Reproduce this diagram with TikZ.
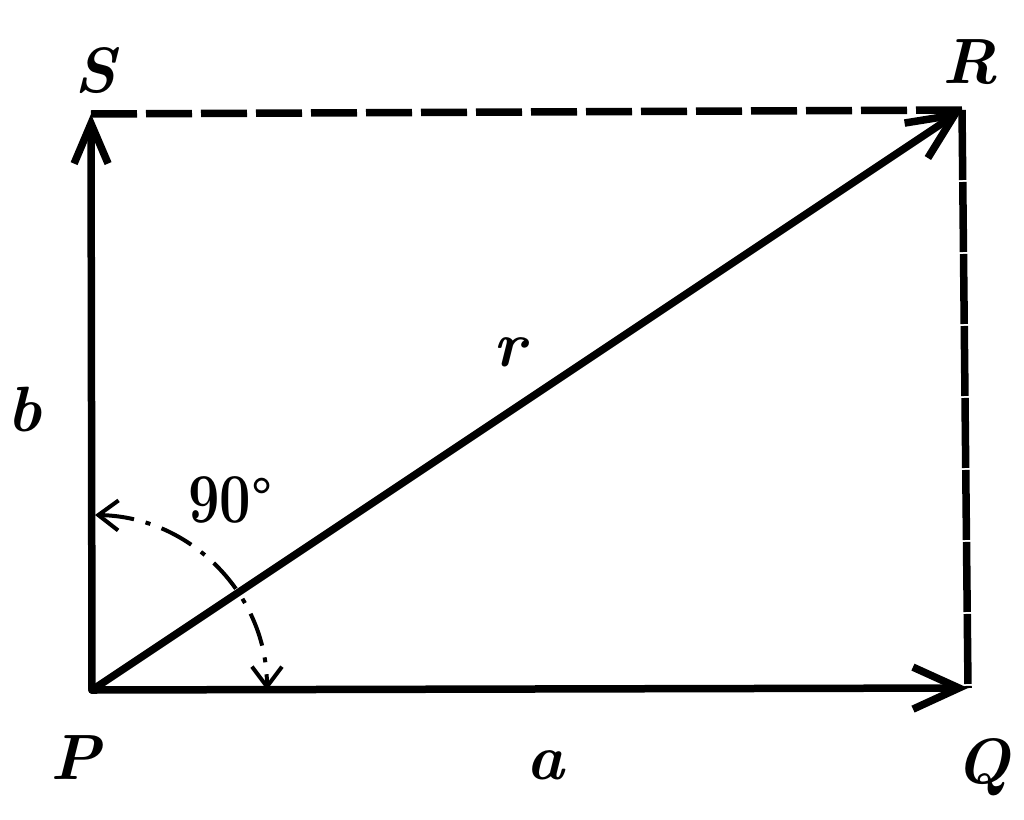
\documentclass[tikz,border=0pt]{standalone}
\usetikzlibrary{arrows.meta}
\tikzset{
  edge/.style={line width=7.5pt, line cap=round, line join=round},
  bigtip/.style={-{Straight Barb[length=46pt 0 0,width=42pt 0 0,line width=7.5pt]}},
  lbl/.style={inner sep=0pt, font=\fontsize{64}{64}\selectfont\bfseries\itshape},
  arcline/.style={line width=4pt, dash pattern=on 34pt off 12pt on 5pt off 12pt},
  smalltip/.tip={Straight Barb[length=20pt 0 0,width=30pt 0 0,line width=4pt]}
}
\begin{document}
\begin{tikzpicture}[x=1pt,y=-1pt]
\useasboundingbox (0,0) rectangle (1024,819);
\coordinate (P) at (92,690);
\coordinate (Q) at (968,688);
\coordinate (R) at (962,110);
\coordinate (S) at (91,114);
% sides
\draw[edge,bigtip] (P) -- (Q);
\draw[edge,-{Straight Barb[length=40pt 0 0,width=34pt 0 0,line width=7.5pt]}] (P) -- (S);
\draw[edge,bigtip] (P) -- (R);
\draw[edge,line cap=butt,dash pattern=on 46pt off 9pt] (S) -- (R);
\draw[edge,line cap=butt,dash pattern=on 70pt off 2pt] (R) -- (Q);
% angle arc
\coordinate (A2) at (95,515);
\draw[arcline,smalltip-smalltip] (A2) arc[start angle=-89,end angle=0,radius=175];
% labels
\node[lbl] (lS) at (95,71) {S};
\node[lbl] (lR) at (970,62) {R};
\node[lbl] (lP) at (76,758) {P};
\node[lbl] (lQ) at (983,767) {Q};
\node[lbl] (la) at (545,765) {a};
\node[lbl] (lb) at (25,410) {b};
\node[lbl] (lr) at (510,352) {r};
\node[inner sep=0pt, anchor=base west, font=\fontsize{70}{70}\selectfont\bfseries] (l90) at (188,522) {\scalebox{0.8}[1]{90}\raisebox{10pt}{\fontsize{50}{50}\selectfont\textdegree}};
\end{tikzpicture}
\end{document}
